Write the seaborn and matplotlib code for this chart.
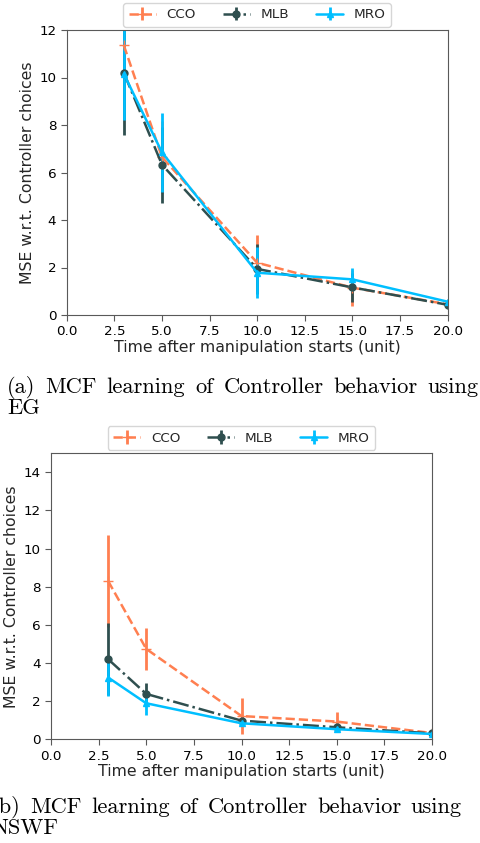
import numpy as np
import pandas as pd
import matplotlib
matplotlib.use('Agg')
import matplotlib.pyplot as plt
import matplotlib.ticker as ticker
import seaborn as sns

# time points (unit)
times = [3, 5, 10, 15, 20]
methods = ['CCO', 'MLB', 'MRO']

# (a) EG
eg_cco = [11.35, 6.65, 2.20, 1.15, 0.45]
eg_cco_err = [1.4, 1.5, 1.15, 0.75, 0.10]
eg_mlb = [10.20, 6.33, 1.94, 1.16, 0.43]
eg_mlb_err = [2.60, 1.60, 1.07, 0.60, 0.10]
eg_mro = [10.15, 6.85, 1.78, 1.50, 0.56]
eg_mro_err = [1.95, 1.67, 1.07, 0.48, 0.10]

# (b) NSWF
ns_cco = [8.30, 4.74, 1.22, 0.93, 0.33]
ns_cco_err = [2.40, 1.10, 0.95, 0.50, 0.08]
ns_mlb = [4.20, 2.38, 0.98, 0.63, 0.31]
ns_mlb_err = [1.90, 0.57, 0.20, 0.10, 0.06]
ns_mro = [3.24, 1.89, 0.84, 0.53, 0.28]
ns_mro_err = [0.96, 0.60, 0.15, 0.10, 0.06]

xticks = [0.0, 2.5, 5.0, 7.5, 10.0, 12.5, 15.0, 17.5, 20.0]
xlabel = 'Time after manipulation starts (unit)'
ylabel = 'MSE w.r.t. Controller choices'

sns.set_style('ticks')
plt.rcParams['font.family'] = ['DejaVu Sans']
plt.rcParams['axes.edgecolor'] = '0.35'
plt.rcParams['xtick.color'] = '0.35'
plt.rcParams['ytick.color'] = '0.35'
plt.rcParams['xtick.labelcolor'] = 'black'
plt.rcParams['ytick.labelcolor'] = 'black'

palette = {'CCO': 'coral', 'MLB': 'darkslategray', 'MRO': 'deepskyblue'}
styles = {'CCO': dict(ls='--', marker='+', ms=7),
          'MLB': dict(ls='-.', marker='o', ms=5),
          'MRO': dict(ls='-', marker='^', ms=5)}


def draw(ax, series, ymax, yticks):
    df = pd.DataFrame({'time': times * 3,
                       'method': np.repeat(methods, len(times)),
                       'mse': np.concatenate([s[0] for s in series]),
                       'err': np.concatenate([s[1] for s in series])})
    for m in methods:
        d = df[df['method'] == m]
        st = styles[m]
        ax.errorbar(d['time'], d['mse'], yerr=d['err'], color=palette[m],
                    linestyle=st['ls'], marker=st['marker'], markersize=st['ms'],
                    linewidth=1.8, elinewidth=2, capsize=0, label=m)
    ax.set_xlim(0, 20)
    ax.set_ylim(0, ymax)
    ax.set_xticks(xticks)
    ax.set_yticks(yticks)
    ax.xaxis.set_major_formatter(ticker.FormatStrFormatter('%.1f'))
    ax.tick_params(labelsize=9.7, length=4)
    ax.set_xlabel(xlabel, fontsize=11.3, labelpad=1)
    ax.set_ylabel(ylabel, fontsize=11.3, labelpad=3)
    for sp in ax.spines.values():
        sp.set_visible(True)
    ax.legend(loc='lower center', bbox_to_anchor=(0.5, 1.0), ncol=3, fontsize=9.7,
              frameon=True, edgecolor='0.8', borderaxespad=0.25, columnspacing=2.0)


W, H = 481, 843
fig = plt.figure(figsize=(W / 100, H / 100), dpi=100)
ax1 = fig.add_axes([66.7 / W, 1 - 315 / H, 381 / W, 285 / H])
ax2 = fig.add_axes([51 / W, 1 - 739.3 / H, 381 / W, 286 / H])

draw(ax1, [(eg_cco, eg_cco_err), (eg_mlb, eg_mlb_err), (eg_mro, eg_mro_err)],
     12, [0, 2, 4, 6, 8, 10, 12])
draw(ax2, [(ns_cco, ns_cco_err), (ns_mlb, ns_mlb_err), (ns_mro, ns_mro_err)],
     15, [0, 2, 4, 6, 8, 10, 12, 14])

# captions, justified like the LaTeX source (word gap about 10 px)
renderer = fig.canvas.get_renderer()
cap_words = '(a) MCF learning of Controller behavior using'.split()
probe = [fig.text(0, 0, w, family='cmr10', fontsize=10) for w in cap_words]
natural = sum(t.get_window_extent(renderer).width for t in probe)
for t in probe:
    t.remove()
cap_size = 10 * (472 - 6 * 10) / natural
cap_font = dict(family='cmr10', fontsize=cap_size, color='black')


def justified(words, x0, x1, ybase):
    texts = [fig.text(0, 1 - ybase / H, w, va='baseline', **cap_font) for w in words]
    widths = [t.get_window_extent(renderer).width for t in texts]
    gap = (x1 - x0 - sum(widths)) / (len(words) - 1)
    x = x0
    for t, w in zip(texts, widths):
        t.set_x(x / W)
        x += w + gap


justified(cap_words, 7, 479, 393)
fig.text(7 / W, 1 - 414 / H, 'EG', va='baseline', **cap_font)
justified('(b) MCF learning of Controller behavior using'.split(), -9, 462, 813)
fig.text(-9 / W, 1 - 834 / H, 'NSWF', va='baseline', **cap_font)

fig.savefig('out.png', dpi=100)
